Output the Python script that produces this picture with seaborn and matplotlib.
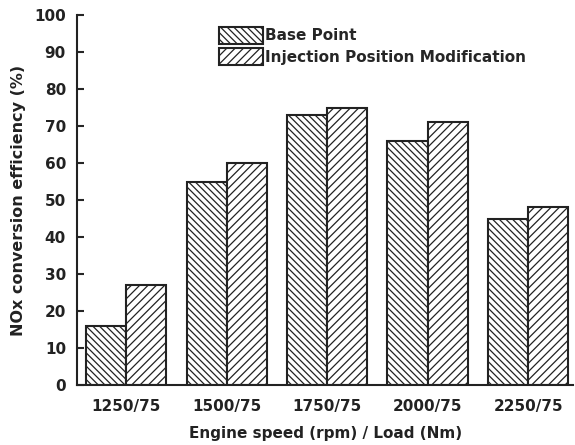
import matplotlib
matplotlib.use("Agg")
import matplotlib.pyplot as plt
import seaborn as sns
import pandas as pd

categories = ["1250/75", "1500/75", "1750/75", "2000/75", "2250/75"]
series_names = ["Base Point", "Injection Position Modification"]
base_point = [16, 55, 73, 66, 45]
injection_mod = [27, 60, 75, 71, 48]
y_ticks = [0, 10, 20, 30, 40, 50, 60, 70, 80, 90, 100]

df = pd.DataFrame({
    "cat": categories * 2,
    "series": [series_names[0]] * len(categories) + [series_names[1]] * len(categories),
    "value": base_point + injection_mod,
})

sns.set_style("ticks")
plt.rcParams["font.family"] = ["DejaVu Sans"]
plt.rcParams["hatch.color"] = "#707070"
plt.rcParams["hatch.linewidth"] = 0.9

fs = 11
fig = plt.figure(figsize=(5.75, 4.45), dpi=100)
ax = fig.add_axes([0.134, 0.135, 0.863, 0.831])

sns.barplot(data=df, x="cat", y="value", hue="series", order=categories,
            hue_order=series_names, palette=["white", "white"],
            edgecolor="#222222", linewidth=1.5, width=0.8, ax=ax, errorbar=None)

hatches = ["\\\\\\\\\\", "////"]
for cont, h in zip(ax.containers, hatches):
    for bar in cont:
        bar.set_hatch(h)

ax.set_ylim(0, 100)
ax.set_xlim(-0.49, 4.45)
ax.set_yticks(y_ticks)
ax.set_yticklabels([str(t) for t in y_ticks], fontsize=fs, fontweight="bold", color="#222222")
ax.set_xticks(range(len(categories)))
ax.set_xticklabels(categories, fontsize=fs, fontweight="bold", color="#222222")
ax.tick_params(axis="y", direction="in", length=5, width=1.5, pad=8)
ax.tick_params(axis="x", length=0, pad=10)
for s in ["left", "bottom"]:
    ax.spines[s].set_linewidth(1.5)
    ax.spines[s].set_color("#222222")
sns.despine(ax=ax)

ax.set_xlabel("Engine speed (rpm) / Load (Nm)", fontsize=fs, fontweight="bold", labelpad=9, color="#222222")
ax.set_ylabel("NOx conversion efficiency (%)", fontsize=fs + 0.5, fontweight="bold", labelpad=6, color="#222222")

handles, labels = ax.get_legend_handles_labels()
for hnd, h in zip(handles, hatches):
    hnd.set_hatch(h)
leg = ax.legend(handles, labels, loc="upper left", bbox_to_anchor=(0.258, 1.005), frameon=False,
                handlelength=2.9, handleheight=1.3, handletextpad=0.15, labelspacing=0.3,
                prop={"weight": "bold", "size": fs})

fig.savefig("out.png", dpi=100)
